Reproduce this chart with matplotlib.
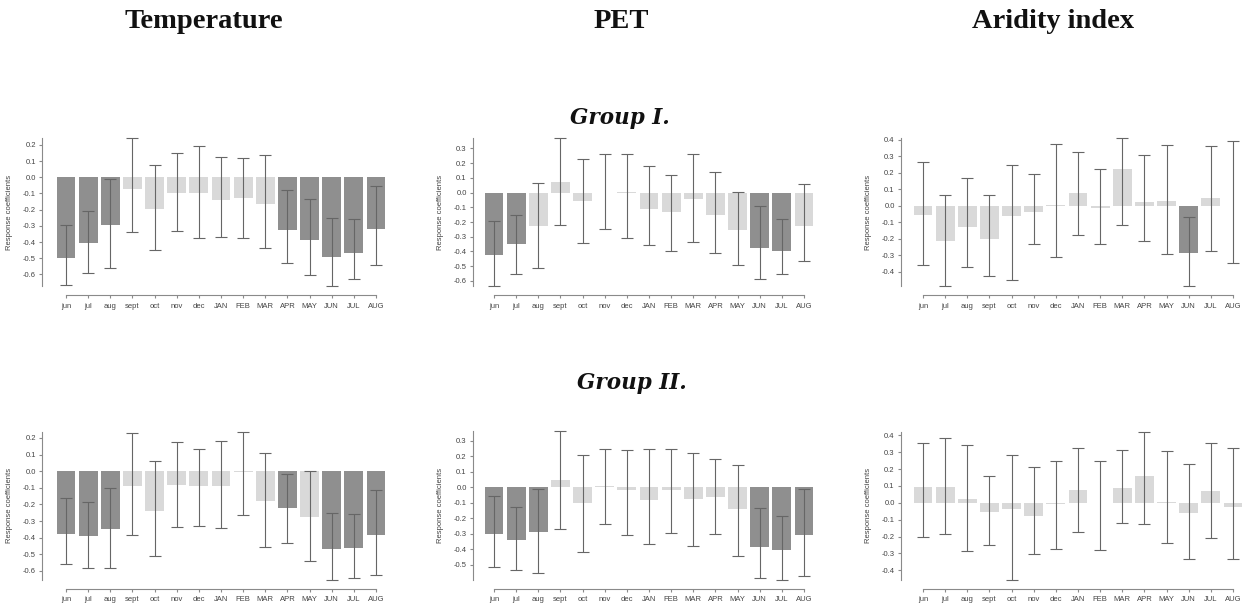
import numpy as np
import matplotlib.pyplot as plt
from matplotlib.ticker import MultipleLocator, FormatStrFormatter

plt.rcParams['axes.unicode_minus'] = False

months = ['jun', 'jul', 'aug', 'sept', 'oct', 'nov', 'dec',
          'JAN', 'FEB', 'MAR', 'APR', 'MAY', 'JUN', 'JUL', 'AUG']

# Group I - Temperature
temp1 = [-0.50, -0.405, -0.295, -0.07, -0.195, -0.095, -0.095, -0.142, -0.128, -0.167, -0.324, -0.386, -0.49, -0.47, -0.318]
temp1_lo = [-0.666, -0.59, -0.56, -0.34, -0.447, -0.332, -0.377, -0.371, -0.375, -0.437, -0.532, -0.602, -0.672, -0.629, -0.542]
temp1_hi = [-0.295, -0.21, -0.012, 0.243, 0.078, 0.15, 0.194, 0.126, 0.12, 0.138, -0.078, -0.132, -0.252, -0.26, -0.054]
temp1_sig = [1, 1, 1, 0, 0, 0, 0, 0, 0, 0, 1, 1, 1, 1, 1]

# Group I - PET
pet1 = [-0.425, -0.347, -0.227, 0.075, -0.057, 0.0, 0.005, -0.109, -0.131, -0.045, -0.154, -0.251, -0.38, -0.394, -0.224]
pet1_lo = [-0.635, -0.556, -0.516, -0.222, -0.34, -0.245, -0.312, -0.357, -0.40, -0.333, -0.41, -0.495, -0.59, -0.556, -0.468]
pet1_hi = [-0.193, -0.15, 0.068, 0.371, 0.231, 0.26, 0.26, 0.183, 0.12, 0.265, 0.14, 0.007, -0.09, -0.177, 0.059]
pet1_sig = [1, 1, 0, 0, 0, 0, 0, 0, 0, 0, 0, 0, 1, 1, 0]

# Group I - Aridity index
ari1 = [-0.055, -0.215, -0.13, -0.20, -0.06, -0.04, 0.005, 0.08, -0.015, 0.22, 0.02, 0.03, -0.285, 0.05, 0.0]
ari1_lo = [-0.355, -0.485, -0.37, -0.425, -0.45, -0.23, -0.31, -0.175, -0.23, -0.115, -0.21, -0.29, -0.485, -0.275, -0.345]
ari1_hi = [0.265, 0.065, 0.17, 0.065, 0.245, 0.195, 0.375, 0.325, 0.22, 0.41, 0.31, 0.37, -0.07, 0.36, 0.39]
ari1_sig = [0, 0, 0, 0, 0, 0, 0, 0, 0, 0, 0, 0, 1, 0, 0]

# Group II - Temperature
temp2 = [-0.38, -0.388, -0.346, -0.09, -0.24, -0.083, -0.088, -0.088, -0.002, -0.179, -0.223, -0.278, -0.471, -0.465, -0.382]
temp2_lo = [-0.56, -0.58, -0.585, -0.386, -0.513, -0.334, -0.328, -0.344, -0.262, -0.455, -0.434, -0.543, -0.652, -0.642, -0.626]
temp2_hi = [-0.159, -0.187, -0.10, 0.23, 0.062, 0.173, 0.133, 0.179, 0.239, 0.109, -0.018, 0.004, -0.25, -0.26, -0.113]
temp2_sig = [1, 1, 1, 0, 0, 0, 0, 0, 0, 0, 1, 0, 1, 1, 1]

# Group II - PET
pet2 = [-0.30, -0.338, -0.288, 0.045, -0.099, 0.005, -0.02, -0.084, -0.015, -0.073, -0.065, -0.14, -0.383, -0.406, -0.305]
pet2_lo = [-0.516, -0.533, -0.553, -0.269, -0.417, -0.237, -0.31, -0.366, -0.297, -0.381, -0.303, -0.441, -0.585, -0.594, -0.572]
pet2_hi = [-0.058, -0.125, -0.009, 0.359, 0.206, 0.249, 0.239, 0.245, 0.249, 0.221, 0.181, 0.144, -0.135, -0.187, -0.013]
pet2_sig = [1, 1, 1, 0, 0, 0, 0, 0, 0, 0, 0, 0, 1, 1, 1]

# Group II - Aridity index
ari2 = [0.091, 0.093, 0.022, -0.057, -0.034, -0.077, -0.01, 0.075, 0.0, 0.085, 0.16, 0.005, -0.06, 0.067, -0.025]
ari2_lo = [-0.201, -0.187, -0.286, -0.249, -0.454, -0.304, -0.274, -0.17, -0.28, -0.12, -0.124, -0.24, -0.335, -0.211, -0.335]
ari2_hi = [0.355, 0.385, 0.345, 0.16, 0.28, 0.211, 0.25, 0.327, 0.249, 0.314, 0.422, 0.306, 0.231, 0.355, 0.327]
ari2_sig = [0, 0, 0, 0, 0, 0, 0, 0, 0, 0, 0, 0, 0, 0, 0]

W, H = 1244, 608
fig = plt.figure(figsize=(W / 100, H / 100), dpi=100)

step = 22.14  # pixels between bar centres
cols = [(42, 66, 390), (473, 494, 820), (901, 923, 1244)]  # axis line, first bar centre, right edge
rows = [(138, 286), (431.5, 579.5)]

dark = '#8f8f8f'
light = '#d9d9d9'
axcol = '#8a8a8a'
txtcol = '#444444'


def panel(col, row, vals, lo, hi, sig):
    ax_x, c0, right = cols[col]
    top, bot = rows[row]
    ax = fig.add_axes([ax_x / W, 1 - bot / H, (right - ax_x) / W, (bot - top) / H])
    x = np.arange(len(months))
    vals = np.array(vals)
    lo = np.array(lo)
    hi = np.array(hi)
    colors = [dark if s else light for s in sig]
    ax.bar(x, vals, width=0.85, color=colors, linewidth=0)
    eb = ax.errorbar(x, vals, yerr=[vals - lo, hi - vals], fmt='none',
                     ecolor='#666666', elinewidth=0.8, capsize=4.2, capthick=0.8)
    for art in eb.get_children():
        art.set_clip_on(False)
    ax.set_xlim((ax_x - c0) / step, (right - c0) / step)
    ax.set_ylim(lo.min(), hi.max())
    ax.yaxis.set_major_locator(MultipleLocator(0.1))
    ax.yaxis.set_major_formatter(FormatStrFormatter('%.1f'))
    ax.set_xticks(x)
    ax.set_xticklabels(months)
    for s in ['top', 'right']:
        ax.spines[s].set_visible(False)
    ax.spines['left'].set_color(axcol)
    ax.spines['left'].set_linewidth(0.8)
    ax.spines['bottom'].set_color(axcol)
    ax.spines['bottom'].set_linewidth(0.8)
    ax.spines['bottom'].set_position(('outward', 6.5))
    ax.spines['bottom'].set_bounds(0, len(months) - 1)
    ax.tick_params(colors=axcol, labelcolor=txtcol, labelsize=5.5, length=2.5, width=0.8, pad=2)
    ax.tick_params(axis='x', pad=3)
    for lab in ax.get_xticklabels() + ax.get_yticklabels():
        lab.set_family('Liberation Sans')
    ax.set_ylabel('Response coefficients', fontsize=5.5, color=txtcol, family='Liberation Sans')
    ax.yaxis.set_label_coords(-29 / (right - ax_x), 0.5)
    ax.patch.set_alpha(0)
    return ax


panel(0, 0, temp1, temp1_lo, temp1_hi, temp1_sig)
panel(1, 0, pet1, pet1_lo, pet1_hi, pet1_sig)
panel(2, 0, ari1, ari1_lo, ari1_hi, ari1_sig)
panel(0, 1, temp2, temp2_lo, temp2_hi, temp2_sig)
panel(1, 1, pet2, pet2_lo, pet2_hi, pet2_sig)
panel(2, 1, ari2, ari2_lo, ari2_hi, ari2_sig)

# column headings
for cx, name in [(204, 'Temperature'), (621, 'PET'), (1053, 'Aridity index')]:
    fig.text(cx / W, 1 - 21 / H, name, ha='center', va='center',
             family='Liberation Serif', weight='bold', fontsize=20.5, color='#111111')

fig.text(620 / W, 1 - 118 / H, 'Group I.', ha='center', va='center',
         family='DejaVu Serif', weight='bold', style='italic', fontsize=15.5, color='#111111')
fig.text(632 / W, 1 - 383 / H, 'Group II.', ha='center', va='center',
         family='DejaVu Serif', weight='bold', style='italic', fontsize=15.5, color='#111111')

fig.savefig('out.png', dpi=100)
